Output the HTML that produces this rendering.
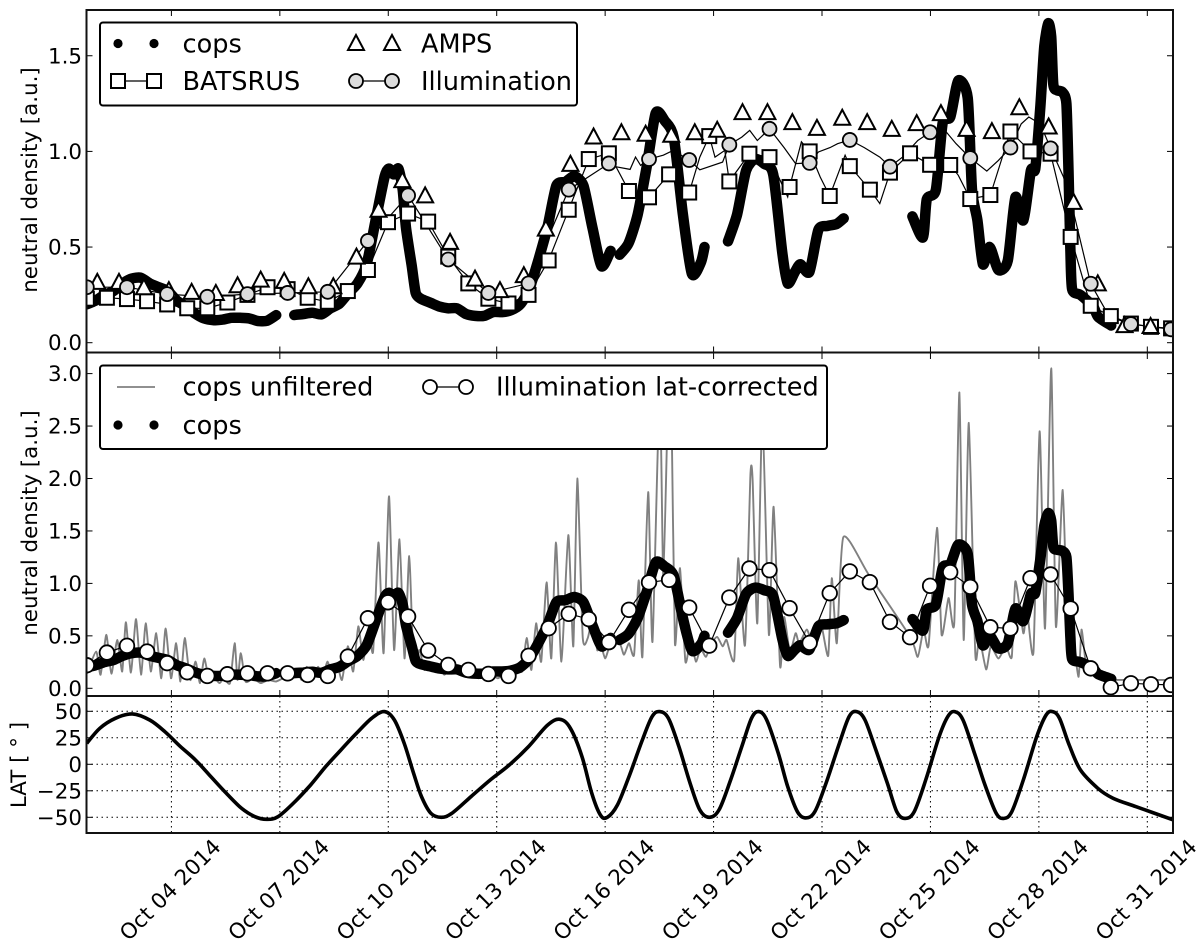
<!DOCTYPE html>
<html lang="en">
<head>
<meta charset="utf-8">
<title>Neutral density comparison, October 2014</title>
<style>
html,body{margin:0;padding:0;background:#fff;width:1200px;height:943px;overflow:hidden}
svg{display:block}
text{font-family:"DejaVu Sans","Liberation Sans",sans-serif;fill:#000}
</style>
</head>
<body>
<svg id="chart" width="1200" height="943" viewBox="0 0 1200 943" xmlns="http://www.w3.org/2000/svg">
<defs>
<clipPath id="clip-top"><rect x="86.5" y="10" width="1086.5" height="342.5"/></clipPath>
<clipPath id="clip-mid"><rect x="86.5" y="353" width="1086.5" height="343"/></clipPath>
<clipPath id="clip-lat"><rect x="86.5" y="696" width="1086.5" height="137"/></clipPath>
</defs>
<rect x="0" y="0" width="1200" height="943" fill="#fff"/>
<g id="g-axes"></g>
<g id="g-top" clip-path="url(#clip-top)"></g>
<g id="g-mid" clip-path="url(#clip-mid)"></g>
<g id="g-lat" clip-path="url(#clip-lat)"></g>
<g id="g-frame"></g>

<g>
  <rect x="100" y="22.5" width="477" height="83" rx="3" fill="#fff" stroke="#000" stroke-width="2"/>
  <circle cx="118" cy="43.5" r="4.6" fill="#000"/>
  <circle cx="154" cy="43.5" r="4.6" fill="#000"/>
  <text x="182.5" y="52.5" font-size="25.6">cops</text>
  <line x1="118" y1="81" x2="154" y2="81" stroke="#000" stroke-width="1.2"/>
  <rect x="111" y="74" width="14" height="14" fill="#fff" stroke="#000" stroke-width="2"/>
  <rect x="147" y="74" width="14" height="14" fill="#fff" stroke="#000" stroke-width="2"/>
  <text x="182.5" y="90" font-size="25.6">BATSRUS</text>
  <polygon points="356,35 348,50 364,50" fill="#fff" stroke="#000" stroke-width="2"/>
  <polygon points="392,35 384,50 400,50" fill="#fff" stroke="#000" stroke-width="2"/>
  <text x="421" y="52.5" font-size="25.6">AMPS</text>
  <line x1="356" y1="81" x2="392" y2="81" stroke="#000" stroke-width="1.2"/>
  <circle cx="356" cy="81" r="7" fill="#dcdcdc" stroke="#000" stroke-width="1.8"/>
  <circle cx="392" cy="81" r="7" fill="#dcdcdc" stroke="#000" stroke-width="1.8"/>
  <text x="421" y="90" font-size="25.6">Illumination</text>
</g>

<g>
  <rect x="100" y="365.5" width="727" height="83.5" rx="3" fill="#fff" stroke="#000" stroke-width="2"/>
  <line x1="117" y1="387" x2="155" y2="387" stroke="#808080" stroke-width="1.8"/>
  <text x="182.5" y="395.5" font-size="25.6">cops unfiltered</text>
  <circle cx="118" cy="425" r="4.6" fill="#000"/>
  <circle cx="154" cy="425" r="4.6" fill="#000"/>
  <text x="182.5" y="434" font-size="25.6">cops</text>
  <line x1="430" y1="387" x2="466" y2="387" stroke="#000" stroke-width="1.2"/>
  <circle cx="430" cy="387" r="7" fill="#fff" stroke="#000" stroke-width="1.8"/>
  <circle cx="466" cy="387" r="7" fill="#fff" stroke="#000" stroke-width="1.8"/>
  <text x="496" y="395.5" font-size="25.6">Illumination lat-corrected</text>
</g>

<text font-size="21.4" text-anchor="middle" transform="translate(37,180) rotate(-90)">neutral density [a.u.]</text>
<text font-size="21.4" text-anchor="middle" transform="translate(37,523) rotate(-90)">neutral density [a.u.]</text>
<text font-size="21.4" text-anchor="middle" transform="translate(26,765) rotate(-90)">LAT [ ° ]</text>
</svg>

<script>
/* ---------- data (days of October 2014 and plotted values) ---------- */
const xTickDays = [4, 7, 10, 13, 16, 19, 22, 25, 28, 31];
const xTickLabels = ['Oct 04 2014', 'Oct 07 2014', 'Oct 10 2014', 'Oct 13 2014', 'Oct 16 2014', 'Oct 19 2014', 'Oct 22 2014', 'Oct 25 2014', 'Oct 28 2014', 'Oct 31 2014'];
const topYTicks = [0, 0.5, 1.0, 1.5];
const topYLabels = ['0.0', '0.5', '1.0', '1.5'];
const midYTicks = [0, 0.5, 1.0, 1.5, 2.0, 2.5, 3.0];
const midYLabels = ['0.0', '0.5', '1.0', '1.5', '2.0', '2.5', '3.0'];
const latYTicks = [-50, -25, 0, 25, 50];
const latYLabels = ['\u221250', '\u221225', '0', '25', '50'];

/* markers are sampled every 13.33 hours from the first time stamp */
const markerStartDay = 1.66;
const markerStepDay = 0.5555;

const copsDays = [1.65,1.9,2.15,2.4,2.65,2.9,3.15,3.4,3.65,3.9,4.15,4.4,4.65,4.9,5.15,5.4,5.65,5.9,6.15,6.4,6.65,6.9,7.15,
7.4,7.65,7.9,8.15,8.4,8.65,8.9,9.15,9.4,9.65,9.9,10.02,10.15,10.28,10.4,10.49,10.65,10.76,10.9,11.15,11.4,11.65,11.9,12.15,12.4,12.65,12.9,13.15,13.4,13.65,13.9,14.15,14.4,14.65,14.9,15.15,15.4,15.65,15.9,16.15,16.3,
16.4,16.65,16.9,17.15,17.4,17.65,17.9,18.15,18.4,18.65,18.75,19.0,
19.4,19.65,19.9,20.15,20.4,20.65,20.9,21.05,21.25,21.4,21.65,21.9,22.15,22.4,22.6,23.5,
24.5,24.79,24.9,25.15,25.34,25.55,25.77,26.03,26.15,26.3,26.45,26.64,26.88,27.14,27.35,27.57,27.78,27.9,28.04,28.15,28.26,28.34,28.4,28.5,28.65,28.76,28.82,28.87,28.92,29.15,29.5,29.64,30.0];
const copsValues = [.20,.22,.25,.27,.31,.335,.34,.31,.29,.27,.22,.19,.153,.127,.118,.12,.13,.13,.127,.113,.115,.144,null,
.145,.15,.157,.148,.18,.205,.26,.31,.41,.64,.87,.91,.88,.91,.80,.6,.4,.26,.23,.21,.19,.18,.18,.15,.14,.14,.16,.16,.17,.2,.28,.43,.6,.82,.84,.87,.82,.6,.40,.48,null,
.46,.52,.67,.92,1.2,1.16,1.07,.67,.36,.42,.5,null,
.53,.67,.90,.96,.935,.88,.47,.31,.37,.41,.37,.59,.61,.62,.65,null,
.66,.55,.75,.8,1.15,1.18,1.37,1.28,.8,.64,.41,.5,.38,.43,.76,.64,.9,.91,1.23,1.55,1.67,1.6,1.35,1.32,1.31,1.25,.9,.5,.28,.25,.19,.135,.09];

const batsrusValues = [.23,.235,.228,.217,.2,.18,.18,.21,.25,.29,.28,.235,.214,.27,.38,.63,.675,.633,.45,.31,.23,.205,.25,.43,.695,.96,
.99,.793,.76,.88,.785,1.08,.843,.988,.97,.814,1.0,.767,.923,.8,.889,.99,.93,.929,.751,.772,1.104,1.0,.988,.553,.193,.139,.1,.083,.075];
const batsrusExtraDays = [18.62,19.04,19.31,21.05,21.43,21.95,22.64,23.6,25.77];
const batsrusExtraValues = [.97,.97,1.005,.762,1.05,.866,.98,.727,.875];

const illumValues = [.29,.29,.254,.24,.254,.26,.266,.532,.77,.435,.26,.31,.8,
.937,.96,.955,1.035,1.118,.94,1.06,.92,1.1,.965,1.02,1.016,.308,.097,.07];
const illumExtraDays = [16.29,16.69,16.84,16.98,17.61,17.88,18.62,19.25,19.78,20.0,20.21,20.95,21.27,21.9,22.22,22.43,23.17,23.6,24.23,24.65,25.4,25.71,26.56,26.88,27.51,27.72,28.04,28.68,28.99,29.95];
const illumExtraValues = [.92,.906,.97,.927,.98,1.005,.904,.944,1.075,1.11,1.057,1.02,.936,.997,1.02,1.04,1.02,.97,.97,1.057,1.11,1.04,.897,.953,1.144,1.18,1.144,.866,.657,.136];

const ampsDays = [1.95,2.55,3.24,3.93,4.56,5.23,5.83,6.47,7.12,7.79,8.48,9.12,9.73,10.39,11.02,11.71,12.4,13.09,13.75,14.36,15.04,15.68,16.45,17.12,17.83,18.48,19.1,19.8,20.49,21.18,21.86,22.56,23.25,23.93,24.62,25.29,26.0,26.7,27.46,28.27,28.96,29.63,30.37,31.09];
const ampsValues = [.318,.318,.29,.275,.266,.26,.3,.33,.323,.295,.295,.45,.695,.85,.77,.527,.335,.275,.353,.596,.935,1.078,1.1,1.092,1.087,1.1,1.113,1.205,1.205,1.153,1.123,1.176,1.153,1.118,1.148,1.2,1.118,1.106,1.231,1.13,.736,.31,.092,.087];

const unfilteredDays = [1.66,1.92,2.04,2.2,2.34,2.5,2.64,2.74,2.88,3.02,3.16,3.29,3.43,3.58,3.72,3.84,3.99,4.13,4.25,4.37,4.52,4.67,4.79,4.91,5.05,5.2,5.33,5.46,5.62,5.75,5.83,5.92,6.05,6.26,6.47,6.68,6.89,7.1,7.28,7.48,7.6,7.74,7.9,8.06,8.18,8.32,8.46,8.59,8.72,8.88,9.03,9.17,9.31,9.45,9.58,9.73,9.87,10.02,10.16,10.31,10.45,10.58,10.7,10.86,11.0,11.13,11.26,11.41,11.55,11.71,11.97,12.24,12.5,12.77,13.03,13.3,13.43,13.56,13.7,13.83,13.96,14.09,14.23,14.38,14.51,14.64,14.79,14.98,15.12,15.23,15.38,15.52,15.66,15.78,15.87,16.0,16.13,16.4,16.52,16.66,16.8,16.93,17.03,17.19,17.31,17.51,17.61,17.75,17.83,17.93,18.07,18.22,18.36,18.51,18.64,18.79,18.94,19.1,19.25,19.36,19.57,19.68,19.87,20.02,20.08,20.21,20.35,20.53,20.66,20.84,20.95,21.11,21.27,21.37,21.58,21.74,21.95,22.17,22.27,22.41,22.59,23.28,24.44,24.65,24.81,24.95,25.18,25.31,25.5,25.66,25.8,25.92,26.06,26.24,26.35,26.54,26.67,26.88,27.09,27.25,27.35,27.57,27.67,27.85,28.02,28.17,28.34,28.47,28.66,28.8,28.94,29.1,29.18,29.31,29.47,29.84,30.05,31.64];
const unfilteredValues = [.14,.35,.13,.51,.14,.46,.16,.63,.15,.66,.13,.62,.16,.525,.095,.57,.095,.43,.065,.48,.08,.255,.05,.285,.065,.095,.05,.095,.05,.43,.08,.335,.065,.095,.05,.08,.065,.095,.08,.175,.08,.205,.095,.205,.095,.255,.095,.22,.08,.4,.16,.59,.27,.57,.35,1.39,.335,1.83,.365,1.42,.285,1.26,.24,.365,.175,.255,.16,.205,.13,.175,.13,.175,.095,.16,.095,.16,.13,.22,.16,.48,.175,.62,.255,1.01,.285,1.39,.255,1.46,.4,2.0,.49,.48,.68,.365,.43,.285,.4,.43,.32,.43,.32,1.03,.3,1.87,.445,2.85,1.07,2.9,2.8,.43,1.145,.255,.46,.255,.38,.3,.43,.49,.4,.46,.27,1.24,.41,2.03,1.99,.62,2.6,.51,1.73,.21,.68,.35,.525,.43,.56,.43,.65,.31,1.05,.43,1.44,1.09,.49,.3,.56,.41,1.53,.51,.86,.63,2.82,.46,2.53,.33,.49,.18,.4,.285,.4,.3,1.02,.525,.75,.35,2.45,.57,3.05,.59,1.89,.43,.46,.11,.56,.21,.175,.095,.08,.08];

const latCorrectedValues = [.22,.34,.405,.35,.24,.153,.118,.134,.143,.143,.143,.127,.118,.302,.668,.82,.684,.36,.223,.175,.137,.118,.31,.573,.71,.66,
.44,.748,1.01,1.034,.77,.407,.865,1.142,1.126,.764,.433,.907,1.114,1.012,.633,.487,.977,1.107,.967,.582,.57,1.05,1.085,.76,.19,.01,.048,.038,.032];

const latDays = [1.66,2.02,2.45,2.92,3.4,3.82,4.25,4.67,5.09,5.52,5.94,6.31,6.63,6.95,7.42,7.85,8.27,8.69,9.12,9.54,9.89,10.17,10.44,10.7,10.92,11.18,11.47,11.76,12.29,12.82,13.35,13.88,14.41,14.75,15.04,15.36,15.63,15.87,16.06,16.34,16.66,17.03,17.3,17.51,17.75,18.04,18.35,18.62,18.88,19.15,19.47,19.78,20.05,20.25,20.47,20.79,21.05,21.32,21.55,21.8,22.11,22.48,22.75,22.96,23.19,23.49,23.81,24.07,24.3,24.55,24.87,25.24,25.48,25.67,25.9,26.22,26.51,26.82,27.03,27.25,27.57,27.94,28.2,28.38,28.57,28.84,29.15,29.63,30.05,30.69,31.72];
const latValues = [19.8,34,43.4,47.5,41.8,30.8,16.7,4,-11.6,-27.4,-41.5,-49.4,-51.9,-49.4,-35.2,-19.5,-2.2,13.5,29.2,43.4,49.7,41.8,19.8,-8.5,-30.5,-46.2,-50,-46.2,-30.5,-14.8,-.6,16.7,37.1,42.5,34,7.2,-27.4,-47.8,-50,-38.4,-11.6,23,45,49.7,43.4,16.7,-17.9,-43,-50,-43,-14.8,16.7,43.4,49.7,41.8,10.4,-21,-44.7,-50.6,-44.7,-17.9,19.8,45,49.7,41.8,13.5,-17.9,-44.7,-51,-44.7,-14.8,26,45,49.7,41.8,10.4,-19.5,-46.2,-51,-44.7,-14.8,26,46.5,49.7,43.4,18.2,-5.3,-22.6,-32,-40,-52.5];

/* ---------- axis functions ---------- */
const NS = 'http://www.w3.org/2000/svg';
const LEFT = 86.5, RIGHT = 1173;
const xScale = d => 171.4 + (d - 4) * 36.145;
const yTop = v => 342.7 - v * 191.3;
const yMid = v => 688.3 - v * 104.9;
const yLat = v => 764.3 - v * 1.06;

function el(tag, attrs, parent) {
  const n = document.createElementNS(NS, tag);
  for (const k in attrs) n.setAttribute(k, attrs[k]);
  parent.appendChild(n);
  return n;
}
const gAxes = document.getElementById('g-axes');
const gTop = document.getElementById('g-top');
const gMid = document.getElementById('g-mid');
const gLat = document.getElementById('g-lat');
const gFrame = document.getElementById('g-frame');

function pts(days, vals, yf) {
  return days.map((d, i) => xScale(d).toFixed(1) + ',' + yf(vals[i]).toFixed(1)).join(' ');
}
/* Catmull-Rom through the read points, so curves are not polygonal */
function smoothPath(days, vals, yf, k) {
  const p = days.map((d, i) => [xScale(d), yf(vals[i])]);
  let s = 'M' + p[0][0].toFixed(1) + ' ' + p[0][1].toFixed(1);
  for (let i = 0; i < p.length - 1; i++) {
    const a = p[Math.max(i - 1, 0)], b = p[i], c = p[i + 1], d = p[Math.min(i + 2, p.length - 1)];
    const c1x = b[0] + (c[0] - a[0]) * k, c1y = b[1] + (c[1] - a[1]) * k;
    const c2x = c[0] - (d[0] - b[0]) * k, c2y = c[1] - (d[1] - b[1]) * k;
    s += 'C' + c1x.toFixed(1) + ' ' + c1y.toFixed(1) + ' ' + c2x.toFixed(1) + ' ' + c2y.toFixed(1) + ' ' + c[0].toFixed(1) + ' ' + c[1].toFixed(1);
  }
  return s;
}
function merge(d1, v1, d2, v2) {
  const all = d1.map((d, i) => [d, v1[i]]).concat(d2.map((d, i) => [d, v2[i]]));
  all.sort((a, b) => a[0] - b[0]);
  return [all.map(a => a[0]), all.map(a => a[1])];
}

const batsrusDays = batsrusValues.map((_, i) => markerStartDay + i * markerStepDay);
const illumDays = illumValues.map((_, i) => markerStartDay + 2 * i * markerStepDay);
const latCorrectedDays = latCorrectedValues.map((_, i) => markerStartDay + i * markerStepDay);

/* ---------- cops thick trace, split at data gaps ---------- */
function drawCops(parent, yf) {
  let dd = [], vv = [];
  const flush = () => {
    if (dd.length) {
      const line = el('path', {d: smoothPath(dd, vv, yf, 0.12), fill: 'none', stroke: '#000', 'stroke-width': 10.5, 'stroke-linejoin': 'round', 'stroke-linecap': 'round'}, parent);
      
      
    }
    dd = []; vv = [];
  };
  copsValues.forEach((v, i) => {
    if (v === null) flush();
    else { dd.push(copsDays[i]); vv.push(v); }
  });
  flush();
}

/* ---------- top panel ---------- */
drawCops(gTop, yTop);

const batsrusLine = merge(batsrusDays, batsrusValues, batsrusExtraDays, batsrusExtraValues);
const batsrusPath = el('polyline', {points: pts(batsrusLine[0], batsrusLine[1], yTop), fill: 'none', stroke: '#000', 'stroke-width': 1.2}, gTop);



const illumLine = merge(illumDays, illumValues, illumExtraDays, illumExtraValues);
const illumPath = el('polyline', {points: pts(illumLine[0], illumLine[1], yTop), fill: 'none', stroke: '#000', 'stroke-width': 1.2}, gTop);



batsrusValues.forEach((v, i) => {
  const x = xScale(batsrusDays[i]), y = yTop(v);
  const m = el('rect', {x: x - 7, y: y - 7, width: 14, height: 14, fill: '#fff', stroke: '#000', 'stroke-width': 2}, gTop);
  
  
});
ampsValues.forEach((v, i) => {
  const x = xScale(ampsDays[i]), y = yTop(v);
  const m = el('polygon', {points: (x) + ',' + (y - 8) + ' ' + (x - 8) + ',' + (y + 7) + ' ' + (x + 8) + ',' + (y + 7), fill: '#fff', stroke: '#000', 'stroke-width': 2}, gTop);
  
  
});
illumValues.forEach((v, i) => {
  const m = el('circle', {cx: xScale(illumDays[i]), cy: yTop(v), r: 7, fill: '#dcdcdc', stroke: '#000', 'stroke-width': 1.8}, gTop);
  
  
});

/* ---------- middle panel ---------- */
const unfilteredPath = el('path', {d: smoothPath(unfilteredDays, unfilteredValues, yMid, 0.1), fill: 'none', stroke: '#808080', 'stroke-width': 1.9, 'stroke-linejoin': 'round'}, gMid);



drawCops(gMid, yMid);

const latCorrectedPath = el('polyline', {points: pts(latCorrectedDays, latCorrectedValues, yMid), fill: 'none', stroke: '#000', 'stroke-width': 1.2}, gMid);



latCorrectedValues.forEach((v, i) => {
  const m = el('circle', {cx: xScale(latCorrectedDays[i]), cy: yMid(v), r: 7.3, fill: '#fff', stroke: '#000', 'stroke-width': 1.8}, gMid);
  
  
});

/* ---------- latitude panel ---------- */
const latPath = el('path', {d: smoothPath(latDays, latValues, yLat, 1 / 6), fill: 'none', stroke: '#000', 'stroke-width': 3.6, 'stroke-linejoin': 'round'}, gLat);



/* ---------- grid, ticks, labels ---------- */
const TICK = 6;
xTickDays.forEach((d, i) => {
  const x = xScale(d);
  [[10, 352.5], [353, 696]].forEach(span => {
    const t1 = el('line', {x1: x, x2: x, y1: span[0], y2: span[0] + TICK, stroke: '#000', 'stroke-width': 1}, gAxes);
    
    
    const t2 = el('line', {x1: x, x2: x, y1: span[1], y2: span[1] - TICK, stroke: '#000', 'stroke-width': 1}, gAxes);
    
    
  });
  const g = el('line', {x1: x, x2: x, y1: 696, y2: 833, stroke: '#000', 'stroke-width': 1, 'stroke-dasharray': '1.5 3.5'}, gAxes);
  
  
  const lab = el('text', {'font-size': 21.4, 'text-anchor': 'middle', transform: 'translate(' + (x + 4) + ',895) rotate(-45)'}, gFrame);
  lab.textContent = xTickLabels[i];
  
  
});

function yAxis(ticks, labels, yf, withGrid, name) {
  ticks.forEach((v, i) => {
    const y = yf(v);
    if (withGrid) {
      const g = el('line', {x1: LEFT, x2: RIGHT, y1: y, y2: y, stroke: '#000', 'stroke-width': 1, 'stroke-dasharray': '1.5 3.5'}, gAxes);
      
      
    }
    const t1 = el('line', {x1: LEFT, x2: LEFT + TICK, y1: y, y2: y, stroke: '#000', 'stroke-width': 1}, gAxes);
    
    
    const t2 = el('line', {x1: RIGHT, x2: RIGHT - TICK, y1: y, y2: y, stroke: '#000', 'stroke-width': 1}, gAxes);
    
    
    const lab = el('text', {x: 82, y: y + 7.5, 'font-size': 21.4, 'text-anchor': 'end'}, gFrame);
    lab.textContent = labels[i];
    
    
  });
}
yAxis(topYTicks, topYLabels, yTop, false, 'top-y');
yAxis(midYTicks, midYLabels, yMid, false, 'middle-y');
yAxis(latYTicks, latYLabels, yLat, true, 'latitude-y');

[[10, 352.5, 'top-panel-frame'], [352.5, 696, 'middle-panel-frame'], [696, 833, 'latitude-panel-frame']].forEach(p => {
  const r = el('rect', {x: LEFT, y: p[0], width: RIGHT - LEFT, height: p[1] - p[0], fill: 'none', stroke: '#111', 'stroke-width': 2}, gFrame);
  
  
});
</script>
</body>
</html>
